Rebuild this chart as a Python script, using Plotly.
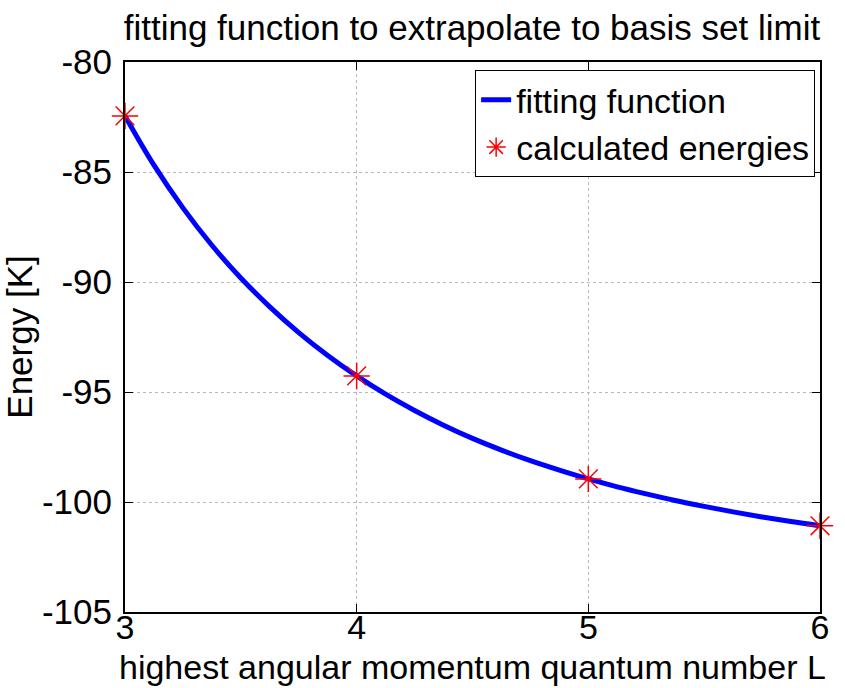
import plotly.graph_objects as go

# fitted curve
fit_L = [3.0, 3.125, 3.25, 3.375, 3.5, 3.625, 3.75, 3.875, 4.0, 4.125, 4.25, 4.375, 4.5,
         4.625, 4.75, 4.875, 5.0, 5.125, 5.25, 5.375, 5.5, 5.625, 5.75, 5.875, 6.0]
fit_E = [-82.45, -84.69, -86.63, -88.33, -89.82, -91.13, -92.30, -93.34, -94.27, -95.10,
         -95.84, -96.51, -97.11, -97.64, -98.12, -98.55, -98.95, -99.31, -99.63, -99.93,
         -100.20, -100.45, -100.68, -100.89, -101.08]

# calculated energies
calc_L = [3, 4, 5, 6]
calc_E = [-82.45, -94.27, -98.95, -101.08]

x_ticks = [3, 4, 5, 6]
y_ticks = [-80, -85, -90, -95, -100, -105]

FONT = "Liberation Sans, Arial, Helvetica, sans-serif"
FS = 35

fig = go.Figure()
fig.add_trace(go.Scatter(x=fit_L, y=fit_E, mode="lines", name="fitting function",
                         line=dict(color="#0000ff", width=5, shape="spline")))
fig.add_trace(go.Scatter(x=calc_L, y=calc_E, mode="markers", name="calculated energies",
                         marker=dict(symbol="asterisk-open", size=22, color="#ff0000",
                                     line=dict(color="#ff0000", width=1.5)),
                         cliponaxis=False))

axis_common = dict(showline=True, linecolor="black", linewidth=2, mirror="ticks",
                   ticks="inside", ticklen=8, tickwidth=1, tickcolor="black",
                   showgrid=True, gridcolor="#b8b8b8", gridwidth=1, griddash="dot",
                   zeroline=False, automargin=False)

fig.update_xaxes(range=[3, 6], tickvals=x_ticks, ticktext=[str(v) for v in x_ticks],
                 ticklabelstandoff=-16,
                 tickfont=dict(family=FONT, size=34, color="black"),
                 **axis_common)
fig.update_yaxes(range=[-105, -80], tickvals=y_ticks, ticktext=[str(v) for v in y_ticks],
                 title=dict(text="Energy [K]",
                            font=dict(family=FONT, size=FS, color="black"), standoff=10),
                 ticklabelstandoff=4,
                 tickfont=dict(family=FONT, size=FS, color="black"),
                 **axis_common)

fig.add_annotation(text="highest angular momentum quantum number L",
                   xref="paper", yref="paper", x=0.5, y=-0.1,
                   xanchor="center", yanchor="middle", showarrow=False,
                   font=dict(family=FONT, size=34, color="black"))

fig.update_layout(
    width=845, height=688,
    margin=dict(l=125, r=25, t=62, b=76, autoexpand=False),
    paper_bgcolor="white", plot_bgcolor="white",
    title=dict(text="fitting function to extrapolate to basis set limit",
               font=dict(family=FONT, size=FS, color="black"),
               x=0.5585, xanchor="center", y=0.96, yanchor="middle"),
    font=dict(family=FONT, size=FS, color="black"),
    legend=dict(x=0.993, xanchor="right", y=0.985, yanchor="top",
                bgcolor="white", bordercolor="black", borderwidth=1,
                font=dict(family=FONT, size=34, color="black"),
                itemwidth=30, tracegroupgap=0),
    showlegend=True,
)

fig.write_html("out.html")
